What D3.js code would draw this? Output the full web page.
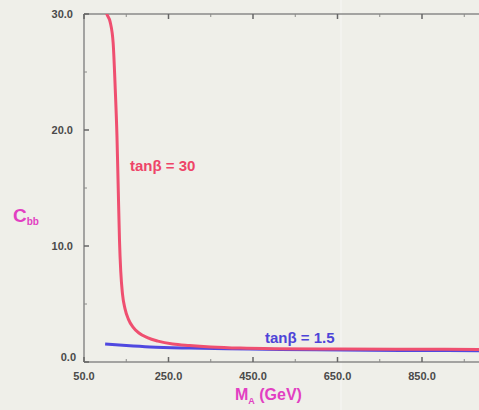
<!DOCTYPE html>
<html>
<head>
<meta charset="utf-8">
<script src="https://cdn.jsdelivr.net/npm/d3@7"></script>
<style>
  html, body { margin: 0; padding: 0; background: #efefe9; }
  svg { display: block; }
</style>
</head>
<body>
<script>
// Pseudoscalar mass M_A (GeV) and coefficient C_bb for two values of tan(beta)
const massHigh = [100, 104, 112, 119, 124, 128, 131, 134, 137, 141, 147, 155, 166, 180, 200, 225, 260, 300, 350, 420, 500, 650, 800, 1000];
const cHigh    = [30.5, 30, 29.3, 27.5, 23.5, 19.5, 15, 10.5, 7.8, 5.9, 4.6, 3.7, 3.0, 2.5, 2.1, 1.8, 1.55, 1.42, 1.3, 1.2, 1.15, 1.12, 1.1, 1.08];
const massLow  = [100, 150, 206, 300, 443, 600, 800, 1000];
const cLow     = [1.55, 1.42, 1.3, 1.2, 1.12, 1.05, 1.0, 0.97];

const xMajor = [50, 250, 450, 650, 850];
const xMinor = [150, 350, 550, 750, 950];
const yMajor = [0, 10, 20, 30];
const yMinor = [5, 15, 25];

const W = 479, H = 410;
const padLeft = 84, padTop = 14, baseY = 362;

const x = d3.scaleLinear().domain([50, 1000]).range([padLeft, padLeft + 950 * 0.4225]);
const y = d3.scaleLinear().domain([0, 30]).range([baseY, padTop]);
const fmt = d3.format(".1f");

const svg = d3.select("body").append("svg").attr("width", W).attr("height", H);
svg.append("rect").attr("width", W).attr("height", H).attr("fill", "#efefe9");

// faint crease across the sheet
svg.append("line").attr("x1", 341).attr("x2", 341).attr("y1", 0).attr("y2", H)
  .attr("stroke", "#f5f5f1").attr("stroke-width", 1.5);

svg.append("defs").append("clipPath").attr("id", "plot")
  .append("rect").attr("x", padLeft).attr("y", padTop).attr("width", W - padLeft).attr("height", baseY - padTop);

const axisCol = "#8a8a88";
const g = svg.append("g");

// frame lines
g.append("line").attr("x1", padLeft).attr("x2", W).attr("y1", baseY).attr("y2", baseY)
  .attr("stroke", axisCol).attr("stroke-width", 1.5);
g.append("line").attr("x1", padLeft).attr("x2", W).attr("y1", padTop).attr("y2", padTop)
  .attr("stroke", axisCol).attr("stroke-width", 1.5);
g.append("line").attr("x1", padLeft).attr("x2", padLeft).attr("y1", padTop).attr("y2", baseY)
  .attr("stroke", axisCol).attr("stroke-width", 1.5);

// inward ticks
yMajor.forEach(v => g.append("line").attr("x1", padLeft).attr("x2", padLeft + 5)
  .attr("y1", y(v)).attr("y2", y(v)).attr("stroke", "#666").attr("stroke-width", 1.5));
yMinor.forEach(v => g.append("line").attr("x1", padLeft).attr("x2", padLeft + 3)
  .attr("y1", y(v)).attr("y2", y(v)).attr("stroke", axisCol).attr("stroke-width", 1));
xMajor.forEach(v => {
  g.append("line").attr("x1", x(v)).attr("x2", x(v)).attr("y1", baseY).attr("y2", baseY - 5)
    .attr("stroke", "#666").attr("stroke-width", 1.5);
  g.append("line").attr("x1", x(v)).attr("x2", x(v)).attr("y1", padTop).attr("y2", padTop + 5)
    .attr("stroke", "#666").attr("stroke-width", 1.5);
});
xMinor.forEach(v => {
  g.append("line").attr("x1", x(v)).attr("x2", x(v)).attr("y1", baseY).attr("y2", baseY - 3)
    .attr("stroke", axisCol).attr("stroke-width", 1);
  g.append("line").attr("x1", x(v)).attr("x2", x(v)).attr("y1", padTop).attr("y2", padTop + 3)
    .attr("stroke", axisCol).attr("stroke-width", 1);
});

// tick labels
const labFont = "Liberation Sans, Arial, sans-serif";
yMajor.forEach(v => g.append("text")
  .attr("x", v === 0 ? 76 : 73).attr("y", v === 0 ? y(v) - 5 : y(v))
  .attr("dy", "0.35em").attr("text-anchor", "end")
  .attr("font-family", labFont).attr("font-size", 11).attr("font-weight", "bold")
  .attr("fill", "#4a4a4a").text(fmt(v)));
xMajor.forEach(v => g.append("text")
  .attr("x", x(v)).attr("y", 376).attr("dy", "0.35em").attr("text-anchor", "middle")
  .attr("font-family", labFont).attr("font-size", 11).attr("font-weight", "bold")
  .attr("fill", "#4a4a4a").text(fmt(v)));

// curves
const line = d3.line().x(d => x(d[0])).y(d => y(d[1])).curve(d3.curveMonotoneX);
const plot = svg.append("g").attr("clip-path", "url(#plot)");
plot.append("path").datum(d3.zip(massLow, cLow)).attr("d", line)
  .attr("fill", "none").attr("stroke", "#4f48e0").attr("stroke-width", 3);
plot.append("path").datum(d3.zip(massHigh, cHigh)).attr("d", line)
  .attr("fill", "none").attr("stroke", "#ef4f70").attr("stroke-width", 3);

// curve annotations
const annFont = "Liberation Sans, Arial, sans-serif";
svg.append("text").attr("x", 130).attr("y", 171)
  .attr("font-family", annFont).attr("font-size", 15).attr("font-weight", "bold")
  .attr("fill", "#ee4468").text("tanβ = 30");
svg.append("text").attr("x", 265).attr("y", 343)
  .attr("font-family", annFont).attr("font-size", 15).attr("font-weight", "bold")
  .attr("fill", "#4d44d8").text("tanβ = 1.5");

// axis titles
const magenta = "#e23fc2";
const yt = svg.append("text").attr("x", 13).attr("y", 222)
  .attr("font-family", annFont).attr("font-size", 19).attr("font-weight", "bold").attr("fill", magenta);
yt.append("tspan").text("C");
yt.append("tspan").attr("font-size", 10).attr("dy", 3).text("bb");

const xt = svg.append("text").attr("x", 235).attr("y", 400)
  .attr("font-family", annFont).attr("font-size", 16).attr("font-weight", "bold").attr("fill", magenta);
xt.append("tspan").text("M");
xt.append("tspan").attr("font-size", 9).attr("dy", 4).text("A");
xt.append("tspan").attr("dy", -4).text(" (GeV)");
</script>
</body>
</html>
